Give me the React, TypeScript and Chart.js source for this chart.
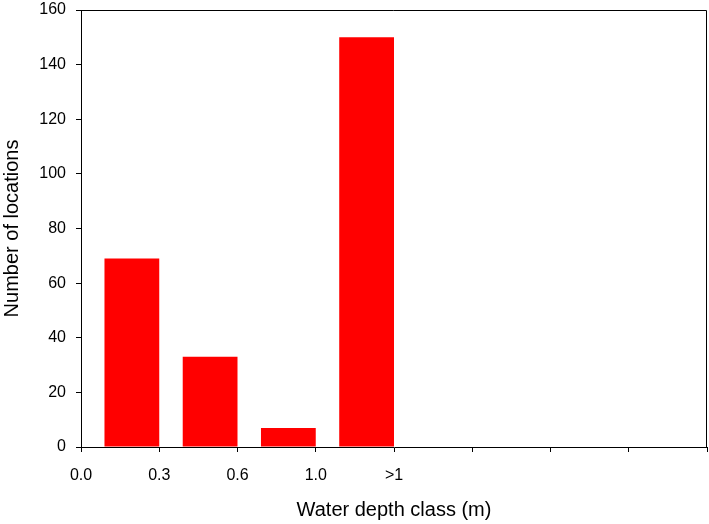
import React, { useEffect, useRef } from "react";
import { Chart, registerables } from "chart.js";

Chart.register(...registerables);

const depthClasses = ["0.0–0.3", "0.3–0.6", "0.6–1.0", ">1"];
const locationCounts = [69, 33, 7, 150];
const xTickLabels = ["0.0", "0.3", "0.6", "1.0", ">1", "", "", "", ""];
const yTickMax = 160;
const yTickStep = 20;

const FONT = "'Liberation Sans', Arial, Helvetica, sans-serif";

const framePlugin = {
  id: "frame",
  afterDatasetsDraw(chart: any) {
    const { ctx, chartArea } = chart;
    ctx.save();
    ctx.strokeStyle = "#000";
    ctx.lineWidth = 1;
    ctx.beginPath();
    ctx.moveTo(chartArea.left, chartArea.top + 0.5);
    ctx.lineTo(chartArea.right - 0.5, chartArea.top + 0.5);
    ctx.lineTo(chartArea.right - 0.5, chartArea.bottom);
    ctx.stroke();
    ctx.restore();
  },
};

export default function App() {
  const ref = useRef<HTMLCanvasElement>(null);

  useEffect(() => {
    document.body.style.margin = "0";
    const canvas = ref.current;
    if (!canvas) return;
    const chart = new Chart(canvas, {
      type: "bar",
      data: {
        datasets: [
          {
            label: "Number of locations",
            data: depthClasses.map((_, i) => ({ x: i + 0.65, y: locationCounts[i] })),
            backgroundColor: "#FF0000",
            borderWidth: 0,
            barPercentage: 0.7,
            categoryPercentage: 1,
          },
        ],
      },
      options: {
        responsive: false,
        animation: false,
        layout: { padding: { top: 10, right: 2, left: 0, bottom: 0 } },
        plugins: {
          legend: { display: false },
          tooltip: { enabled: false },
        },
        scales: {
          x: {
            type: "linear",
            min: 0,
            max: xTickLabels.length - 1,
            offset: false,
            afterFit: (scale: any) => {
              scale.height = 77;
              scale.paddingLeft = 0;
              scale.paddingRight = 0;
            },
            grid: {
              display: true,
              offset: false,
              drawOnChartArea: false,
              drawTicks: true,
              tickLength: 5,
              color: "#000",
            },
            border: { display: true, color: "#000", width: 1 },
            ticks: {
              stepSize: 1,
              autoSkip: false,
              maxRotation: 0,
              padding: 14,
              color: "#000",
              font: { family: FONT, size: 16 },
              callback: (v: any) => xTickLabels[Math.round(Number(v))] ?? "",
            },
            title: {
              display: true,
              text: "Water depth class (m)",
              color: "#000",
              font: { family: FONT, size: 20 },
              padding: { top: 0, bottom: 2 },
            },
          },
          y: {
            type: "linear",
            min: 0,
            max: yTickMax,
            afterFit: (scale: any) => {
              scale.width = 81;
              scale.paddingTop = 0;
              scale.paddingBottom = 0;
            },
            grid: {
              display: true,
              drawOnChartArea: false,
              drawTicks: true,
              tickLength: 5,
              color: "#000",
            },
            border: { display: true, color: "#000", width: 1 },
            ticks: {
              stepSize: yTickStep,
              padding: 10,
              color: "#000",
              font: { family: FONT, size: 16 },
            },
            title: {
              display: true,
              text: "Number of locations",
              color: "#000",
              font: { family: FONT, size: 20 },
              padding: { top: 0, bottom: 0 },
            },
          },
        },
      },
      plugins: [framePlugin],
    });
    return () => chart.destroy();
  }, []);

  return (
    <div style={{ width: 709, height: 524, background: "#fff" }}>
      <canvas ref={ref} width={709} height={524} />
    </div>
  );
}
